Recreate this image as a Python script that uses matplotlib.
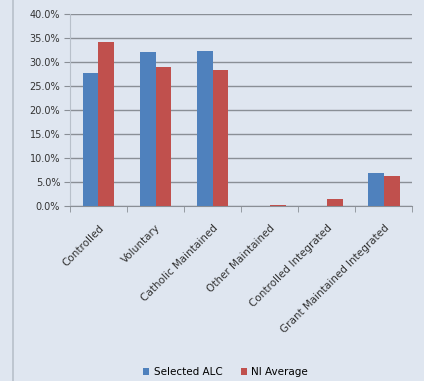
import matplotlib.pyplot as plt
import numpy as np
from matplotlib.lines import Line2D

categories = ['Controlled', 'Voluntary', 'Catholic Maintained', 'Other Maintained',
              'Controlled Integrated', 'Grant Maintained Integrated']
selected_alc = [27.8, 32.1, 32.3, 0.1, 0.0, 6.9]
ni_average = [34.1, 28.9, 28.3, 0.3, 1.5, 6.2]

bg = '#dfe6f0'
blue = '#4f81bd'
red = '#c0504d'

fig = plt.figure(figsize=(4.24, 3.81), dpi=100, facecolor=bg)
ax = fig.add_axes([0.165, 0.459, 0.807, 0.504], facecolor=bg)

x = np.arange(len(categories))
w = 0.28
ax.bar(x - w / 2, selected_alc, w, color=blue, label='Selected ALC', zorder=3)
ax.bar(x + w / 2, ni_average, w, color=red, label='NI Average', zorder=3)

ax.set_xlim(-0.5, len(categories) - 0.5)
ax.set_ylim(0, 40)
ax.set_yticks(np.arange(0, 41, 5))
ax.set_yticklabels([f'{v:.1f}%' for v in np.arange(0, 41, 5)], fontsize=7, color='#333333')
ax.yaxis.grid(True, color='#8a8f96', linewidth=1.0, zorder=0)

ax.set_xticks(x)
ax.set_xticklabels(categories, rotation=45, ha='right', rotation_mode='anchor',
                   fontsize=7.5, color='#333333')
ax.tick_params(axis='x', length=0, pad=12)
ax.set_xticks(np.arange(-0.5, len(categories)), minor=True)
ax.tick_params(axis='x', which='minor', length=4, color='#8a8f96')
ax.tick_params(axis='y', length=4, color='#8a8f96', pad=3)

for side in ['top', 'right']:
    ax.spines[side].set_visible(False)
ax.spines['left'].set_color('#b8c0ca')
ax.spines['bottom'].set_color('#8a8f96')

ax.legend(loc='center', bbox_to_anchor=(0.455, -0.865), ncol=2, frameon=False,
          fontsize=7.5, handlelength=0.6, handleheight=0.6, handletextpad=0.4,
          columnspacing=1.8)

# faint frame line on the left edge
fig.add_artist(Line2D([13 / 424, 13 / 424], [0, 1], color='#b8c0ca', linewidth=1.2))

fig.savefig('out.png', dpi=100, facecolor=bg)
